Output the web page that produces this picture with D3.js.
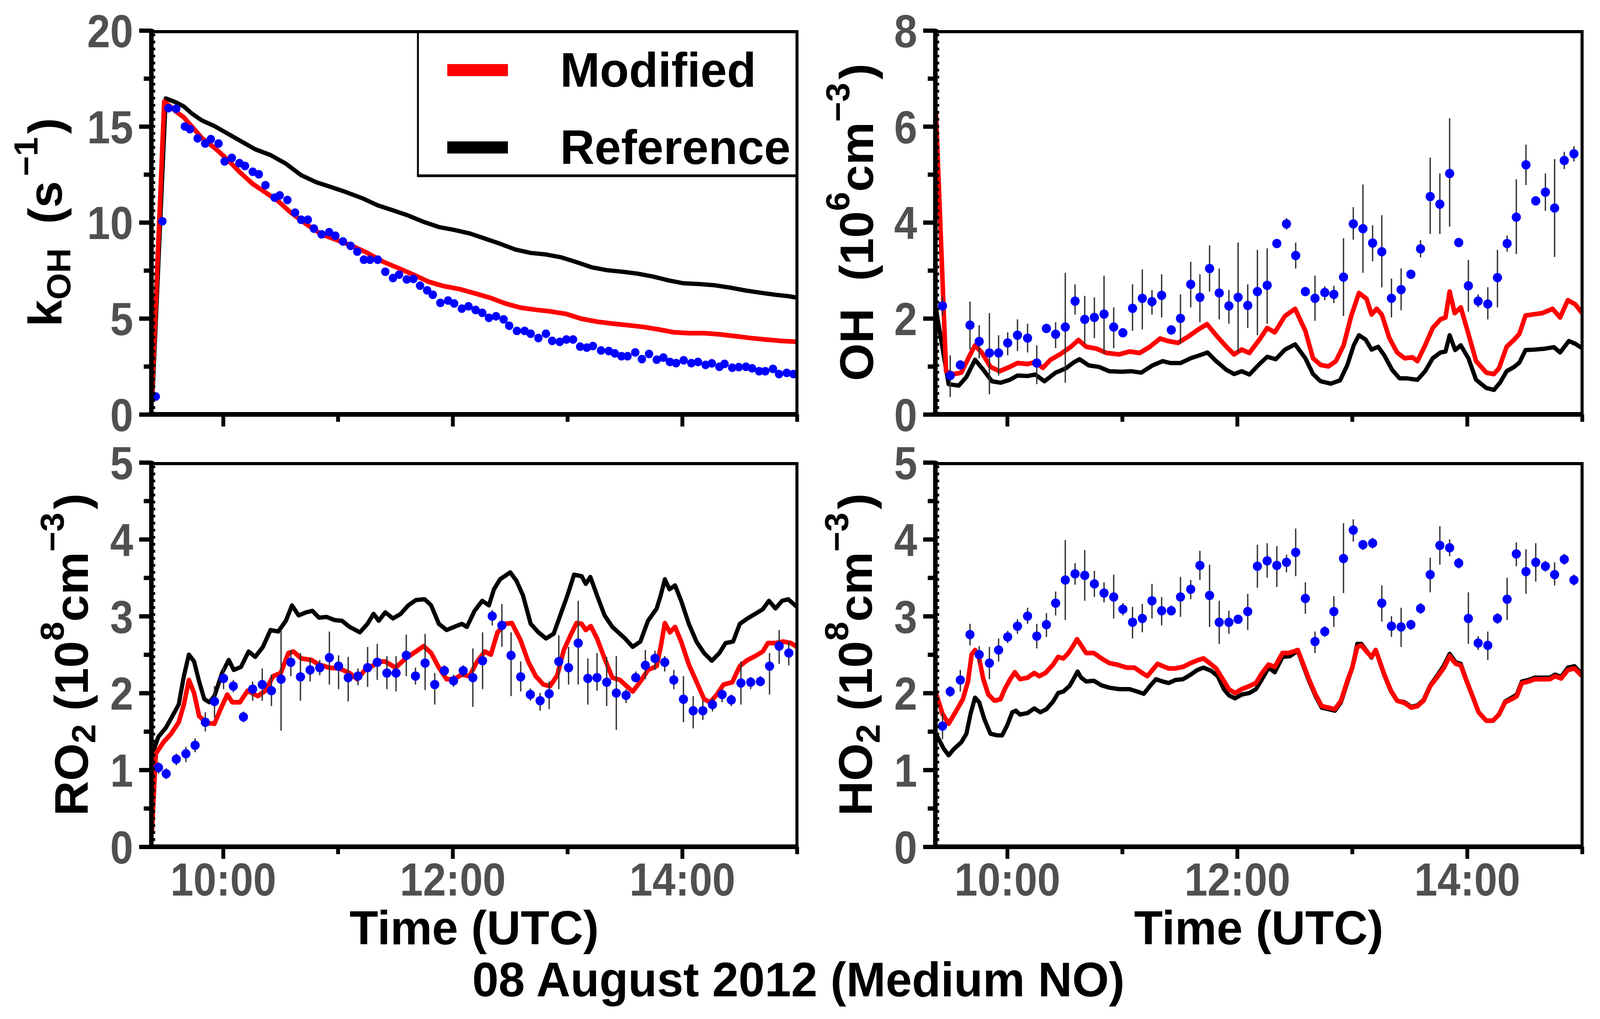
<!DOCTYPE html>
<html><head><meta charset="utf-8">
<script src="https://cdn.jsdelivr.net/npm/d3@7"></script>
<style>
html,body{margin:0;padding:0;background:#fff;overflow:hidden}
svg{display:block;width:100vw;height:100vh}
text{font-family:"Liberation Sans",Arial,Helvetica,sans-serif;font-weight:bold}
</style></head>
<body><svg id="chart" viewBox="0 0 4196 2609" preserveAspectRatio="none"></svg>
<script>
// ---------------- DATA ----------------
const timeDomain = [9.375, 15];
const timeTicksMajor = [10, 12, 14];
const timeTicksMinor = [11, 13, 15];
const timeTickLabels = ["10:00", "12:00", "14:00"];

// kOH panel (s^-1)
const kohObs = [[9.413,0.93],[9.471,10.06],[9.524,15.95],[9.591,15.92],[9.667,15.0],[9.711,14.86],[9.778,14.38],[9.844,14.11],[9.893,14.34],[9.96,14.11],
[10.013,13.18],[10.076,13.36],[10.142,13.09],[10.191,12.94],[10.258,12.64],[10.311,12.51],[10.369,11.94],[10.449,11.29],[10.493,11.41],[10.56,11.17],
[10.627,10.51],[10.68,10.14],[10.738,10.14],[10.791,9.68],[10.858,9.38],[10.924,9.49],[10.978,9.31],[11.044,9.01],[11.111,8.78],[11.169,8.48],
[11.227,8.06],[11.28,8.06],[11.347,8.06],[11.413,7.43],[11.48,7.10],[11.533,7.28],[11.6,7.03],[11.658,7.06],[11.716,6.71],[11.778,6.46],
[11.827,6.23],[11.893,5.81],[11.96,5.93],[12.013,5.78],[12.08,5.51],[12.138,5.63],[12.2,5.44],[12.258,5.29],[12.316,5.03],[12.378,5.11],
[12.444,4.95],[12.493,4.62],[12.56,4.35],[12.627,4.35],[12.68,4.20],[12.747,3.98],[12.813,4.20],[12.867,3.83],[12.933,3.78],[12.991,3.90],
[13.049,3.90],[13.111,3.53],[13.169,3.48],[13.222,3.56],[13.293,3.33],[13.36,3.30],[13.413,3.18],[13.471,3.03],[13.524,3.03],[13.591,3.23],
[13.649,2.88],[13.711,3.15],[13.778,2.85],[13.836,2.96],[13.893,2.73],[13.947,2.67],[14.013,2.82],[14.08,2.67],[14.138,2.73],[14.204,2.58],
[14.258,2.66],[14.324,2.48],[14.369,2.63],[14.436,2.43],[14.493,2.46],[14.556,2.48],[14.609,2.40],[14.671,2.25],[14.724,2.25],[14.791,2.37],
[14.844,2.10],[14.911,2.16],[14.969,2.10]];
const kohModified = [[9.38,1.0],[9.487,16.3],[9.591,15.77],[9.658,15.47],[9.724,15.02],[9.813,14.41],[9.924,13.89],[10.036,13.29],[10.147,12.61],[10.258,12.01],
[10.369,11.56],[10.48,11.11],[10.591,10.51],[10.724,9.91],[10.858,9.38],[10.991,9.08],[11.124,8.78],[11.258,8.41],[11.391,7.96],[11.524,7.63],
[11.658,7.28],[11.791,6.91],[11.924,6.68],[12.058,6.53],[12.191,6.31],[12.324,6.08],[12.458,5.78],[12.591,5.56],[12.724,5.45],[12.858,5.36],
[12.991,5.23],[13.124,4.98],[13.258,4.83],[13.391,4.73],[13.524,4.65],[13.658,4.56],[13.791,4.43],[13.924,4.28],[14.058,4.23],[14.191,4.23],
[14.324,4.17],[14.458,4.08],[14.591,3.98],[14.724,3.90],[14.858,3.83],[15.0,3.78]];
const kohReference = [[9.385,1.0],[9.50,16.46],[9.591,16.25],[9.658,16.04],[9.724,15.69],[9.813,15.32],[9.924,15.02],[10.036,14.64],[10.147,14.26],[10.28,13.81],
[10.413,13.51],[10.547,13.06],[10.68,12.46],[10.813,12.09],[10.947,11.83],[11.08,11.56],[11.213,11.26],[11.347,10.89],[11.48,10.63],[11.613,10.36],
[11.747,10.03],[11.88,9.76],[12.013,9.61],[12.147,9.43],[12.28,9.16],[12.413,8.89],[12.547,8.59],[12.68,8.41],[12.813,8.33],[12.947,8.18],
[13.08,7.93],[13.213,7.66],[13.347,7.51],[13.48,7.43],[13.613,7.33],[13.747,7.18],[13.88,6.98],[14.013,6.83],[14.147,6.79],[14.28,6.73],
[14.413,6.61],[14.547,6.46],[14.68,6.34],[14.813,6.23],[14.924,6.16],[15.0,6.08]];

// shared measurement times for OH, RO2, HO2 (hours UTC)
const obsTimes = [9.437,9.504,9.592,9.676,9.756,9.845,9.925,10.004,10.089,10.177,10.257,10.341,10.421,10.505,10.59,10.674,10.758,10.842,10.926,11.006,
11.09,11.175,11.259,11.343,11.427,11.507,11.596,11.676,11.76,11.844,11.928,12.008,12.092,12.176,12.261,12.345,12.429,12.509,12.593,12.677,
12.762,12.841,12.925,13.01,13.094,13.178,13.258,13.342,13.426,13.511,13.595,13.679,13.763,13.848,13.927,14.011,14.096,14.18,14.264,14.348,
14.428,14.512,14.597,14.681,14.761,14.845,14.929];

// OH (10^6 cm^-3)
const ohObs = [2.26,0.81,1.03,1.86,1.52,1.28,1.28,1.49,1.65,1.59,1.07,1.79,1.67,1.82,2.36,1.98,2.02,2.09,1.82,1.70,
2.21,2.42,2.35,2.48,1.76,2.00,2.71,2.44,3.04,2.53,2.26,2.44,2.27,2.56,2.69,3.56,3.97,3.31,2.56,2.42,
2.54,2.50,2.86,3.97,3.87,3.57,3.39,2.42,2.60,2.92,3.45,4.54,4.38,5.02,3.58,2.68,2.36,2.30,2.85,3.56,
4.11,5.20,4.45,4.63,4.30,5.29,5.43];
const ohErr = [[2.05,2.45],[0.36,1.23],[0.95,1.12],[1.35,2.35],[1.17,1.86],[0.42,2.11],[0.81,1.65],[1.23,1.71],[1.32,1.98],[1.29,1.89],
[0.63,1.44],[1.70,1.89],[1.38,1.92],[0.66,2.95],[2.08,2.71],[1.47,2.47],[1.59,2.44],[1.26,2.89],[1.38,2.23],[1.62,1.78],
[1.74,2.71],[1.77,3.02],[2.08,2.59],[2.02,2.92],[1.66,1.86],[1.47,2.50],[2.23,3.18],[1.92,2.92],[2.56,3.52],[1.98,3.04],
[1.89,2.59],[1.29,3.58],[1.80,2.71],[1.65,3.43],[1.89,3.46],[3.48,3.64],[3.85,4.09],[3.04,3.58],[2.47,2.65],[1.95,2.89],
[2.38,2.67],[2.32,2.68],[2.05,3.67],[3.64,4.32],[2.95,4.79],[3.19,3.94],[2.65,4.15],[2.02,2.83],[2.17,3.04],[2.85,2.99],
[3.27,3.63],[3.76,5.35],[3.76,5.02],[3.91,6.17],[3.50,3.66],[2.14,3.22],[2.23,2.50],[1.98,2.65],[2.23,3.43],[3.39,3.73],
[3.34,4.90],[4.78,5.62],[4.37,4.53],[4.24,5.02],[3.28,5.32],[5.11,5.47],[5.27,5.59]];
const ohModified = [[9.38,6.3],[9.468,0.90],[9.535,0.84],[9.60,0.87],[9.668,1.20],[9.72,1.44],[9.778,1.29],[9.854,0.99],[9.934,0.90],[10.022,0.99],
[10.089,1.07],[10.177,1.05],[10.244,1.09],[10.31,0.97],[10.377,1.14],[10.465,1.26],[10.554,1.41],[10.62,1.55],[10.687,1.41],[10.776,1.37],
[10.864,1.28],[10.975,1.25],[11.064,1.31],[11.152,1.28],[11.241,1.41],[11.33,1.58],[11.396,1.53],[11.485,1.49],[11.574,1.62],[11.662,1.77],
[11.738,1.88],[11.817,1.65],[11.906,1.41],[11.973,1.25],[12.039,1.35],[12.106,1.28],[12.194,1.56],[12.261,1.80],[12.327,1.71],[12.416,2.05],
[12.504,2.20],[12.593,1.74],[12.66,1.17],[12.726,1.03],[12.793,1.00],[12.859,1.11],[12.926,1.44],[12.992,2.05],[13.059,2.53],[13.125,2.41],
[13.169,2.08],[13.214,2.20],[13.258,2.08],[13.324,1.59],[13.391,1.29],[13.457,1.17],[13.524,1.19],[13.568,1.11],[13.635,1.44],[13.701,1.80],
[13.768,1.98],[13.812,2.02],[13.848,2.56],[13.892,2.11],[13.945,2.23],[14.011,1.68],[14.078,1.11],[14.167,0.87],[14.233,0.84],[14.277,0.96],
[14.344,1.41],[14.41,1.56],[14.455,1.68],[14.508,2.06],[14.565,2.08],[14.654,2.11],[14.743,2.20],[14.809,2.02],[14.876,2.38],[14.942,2.29],[15.0,2.11]];
const ohReference = [[9.38,2.2],[9.49,0.63],[9.579,0.60],[9.645,0.78],[9.72,1.14],[9.792,0.93],[9.867,0.69],[9.942,0.66],[10.022,0.72],[10.089,0.81],
[10.177,0.80],[10.244,0.83],[10.324,0.69],[10.421,0.87],[10.51,0.96],[10.576,1.08],[10.629,1.15],[10.709,1.02],[10.798,0.99],[10.886,0.90],
[10.997,0.89],[11.077,0.90],[11.166,0.87],[11.263,1.02],[11.352,1.11],[11.418,1.07],[11.507,1.07],[11.596,1.17],[11.671,1.23],[11.742,1.29],
[11.817,1.11],[11.906,0.93],[11.973,0.84],[12.039,0.90],[12.106,0.83],[12.194,1.05],[12.261,1.20],[12.336,1.15],[12.416,1.35],[12.504,1.46],
[12.593,1.17],[12.66,0.84],[12.726,0.69],[12.815,0.64],[12.895,0.71],[12.957,1.02],[13.014,1.44],[13.059,1.65],[13.117,1.56],[13.169,1.35],
[13.227,1.41],[13.28,1.23],[13.347,0.93],[13.413,0.75],[13.48,0.75],[13.568,0.72],[13.635,0.90],[13.701,1.17],[13.768,1.29],[13.812,1.31],
[13.848,1.65],[13.896,1.34],[13.945,1.44],[14.011,1.17],[14.078,0.72],[14.167,0.55],[14.233,0.51],[14.286,0.66],[14.344,0.90],[14.41,0.99],
[14.455,1.08],[14.508,1.34],[14.588,1.35],[14.676,1.37],[14.756,1.40],[14.809,1.29],[14.885,1.53],[14.942,1.47],[15.0,1.38]];

// RO2 (10^8 cm^-3)
const ro2Obs = [1.03,0.95,1.14,1.21,1.32,1.62,1.89,2.19,2.09,1.69,2.05,2.11,2.03,2.18,2.40,2.21,2.30,2.33,2.46,2.35,
2.20,2.22,2.33,2.40,2.26,2.26,2.49,2.22,2.39,2.11,2.29,2.16,2.29,2.20,2.42,3.00,2.88,2.49,2.21,1.98,
1.90,1.99,2.41,2.33,2.65,2.19,2.20,2.14,2.00,1.97,2.20,2.36,2.45,2.40,2.17,1.92,1.77,1.77,1.85,1.98,
1.91,2.13,2.14,2.15,2.35,2.61,2.52];
const ro2Err = [[0.95,1.10],[0.88,1.02],[1.06,1.21],[1.10,1.30],[1.23,1.41],[1.50,1.75],[1.68,2.09],[2.05,2.34],[2.01,2.17],[1.62,1.76],
[1.90,2.15],[1.90,2.32],[1.83,2.24],[1.51,2.82],[2.22,2.56],[1.90,2.52],[2.15,2.45],[2.23,2.43],[2.11,2.80],[2.05,2.49],
[1.89,2.47],[2.10,2.32],[2.08,2.60],[2.17,2.64],[2.05,2.48],[2.02,2.48],[2.22,2.76],[2.11,2.33],[2.04,2.77],[1.85,2.26],
[2.22,2.36],[2.08,2.24],[2.21,2.36],[1.82,2.58],[2.05,2.79],[2.88,3.08],[2.60,3.16],[1.96,2.79],[2.02,2.41],[1.90,2.06],
[1.77,2.00],[1.79,2.15],[2.05,2.75],[2.11,2.60],[2.11,3.20],[1.85,2.45],[2.03,2.52],[1.83,2.47],[1.52,2.48],[1.87,2.05],
[2.15,2.28],[2.18,2.56],[2.30,2.55],[2.28,2.48],[2.05,2.30],[1.62,2.22],[1.54,1.96],[1.65,1.90],[1.76,1.94],[1.88,2.05],
[1.83,1.98],[1.85,2.41],[2.05,2.21],[2.09,2.22],[1.98,2.52],[2.38,2.82],[2.36,2.67]];
const ro2Modified = [[9.38,0.2],[9.413,1.21],[9.48,1.36],[9.547,1.47],[9.613,1.62],[9.658,1.85],[9.702,2.17],[9.747,2.0],[9.791,1.70],[9.858,1.61],
[9.924,1.60],[9.978,1.79],[10.036,1.98],[10.08,1.88],[10.147,1.88],[10.213,2.03],[10.302,1.96],[10.369,2.03],[10.436,2.22],[10.502,2.26],
[10.569,2.52],[10.613,2.54],[10.68,2.45],[10.769,2.43],[10.836,2.37],[10.924,2.33],[11.013,2.32],[11.102,2.26],[11.169,2.18],[11.236,2.30],
[11.369,2.41],[11.413,2.41],[11.502,2.33],[11.591,2.45],[11.68,2.54],[11.747,2.61],[11.813,2.52],[11.88,2.33],[11.947,2.18],[12.013,2.18],
[12.08,2.24],[12.147,2.22],[12.213,2.41],[12.28,2.54],[12.333,2.50],[12.391,2.79],[12.458,2.90],[12.516,2.91],[12.591,2.69],[12.658,2.41],
[12.724,2.22],[12.791,2.11],[12.849,2.09],[12.911,2.23],[12.969,2.56],[13.027,2.75],[13.08,2.91],[13.124,2.90],[13.16,2.82],[13.204,2.87],
[13.258,2.71],[13.324,2.45],[13.391,2.20],[13.458,2.17],[13.516,2.09],[13.569,2.02],[13.636,2.15],[13.702,2.30],[13.778,2.35],[13.813,2.60],
[13.849,2.91],[13.893,2.79],[13.938,2.86],[13.991,2.67],[14.058,2.37],[14.124,2.15],[14.191,1.92],[14.244,1.88],[14.302,1.98],[14.36,2.11],
[14.436,2.14],[14.502,2.35],[14.569,2.43],[14.636,2.48],[14.702,2.54],[14.747,2.65],[14.813,2.65],[14.88,2.67],[14.947,2.65],[15.0,2.60]];
const ro2Reference = [[9.38,1.2],[9.436,1.43],[9.502,1.55],[9.569,1.73],[9.613,1.85],[9.658,2.22],[9.702,2.50],[9.747,2.41],[9.791,2.15],[9.836,1.92],
[9.88,1.88],[9.924,1.96],[9.991,2.26],[10.049,2.43],[10.093,2.30],[10.156,2.34],[10.222,2.54],[10.28,2.47],[10.347,2.60],[10.413,2.82],
[10.48,2.80],[10.547,2.94],[10.6,3.14],[10.658,3.01],[10.724,3.05],[10.778,3.07],[10.836,2.98],[10.902,2.99],[10.969,2.95],[11.036,2.94],
[11.102,2.86],[11.191,2.79],[11.258,2.90],[11.311,3.03],[11.356,2.94],[11.413,3.05],[11.48,2.97],[11.547,3.03],[11.613,3.14],[11.68,3.21],
[11.756,3.22],[11.813,3.14],[11.88,2.90],[11.947,2.82],[12.013,2.86],[12.08,2.90],[12.124,2.86],[12.191,3.07],[12.258,3.20],[12.316,3.14],
[12.36,3.35],[12.413,3.48],[12.502,3.57],[12.556,3.46],[12.613,3.27],[12.68,2.90],[12.747,2.79],[12.813,2.71],[12.88,2.77],[12.947,3.05],
[13.0,3.27],[13.058,3.54],[13.124,3.52],[13.16,3.42],[13.2,3.51],[13.258,3.27],[13.324,3.01],[13.391,2.86],[13.458,2.77],[13.502,2.71],
[13.569,2.60],[13.636,2.67],[13.702,2.94],[13.778,3.10],[13.813,3.27],[13.849,3.48],[13.889,3.35],[13.938,3.40],[13.991,3.20],[14.058,2.90],
[14.124,2.67],[14.191,2.52],[14.258,2.42],[14.324,2.52],[14.378,2.65],[14.444,2.67],[14.502,2.90],[14.569,2.97],[14.636,3.03],[14.702,3.09],
[14.756,3.20],[14.813,3.10],[14.871,3.20],[14.924,3.22],[15.0,3.12]];

// HO2 (10^8 cm^-3)
const ho2Obs = [1.57,2.02,2.17,2.76,2.50,2.39,2.56,2.73,2.87,3.00,2.74,2.89,3.17,3.47,3.55,3.53,3.42,3.30,3.25,3.09,
2.92,2.97,3.20,3.07,3.07,3.25,3.35,3.66,3.27,2.92,2.92,2.96,3.06,3.65,3.72,3.66,3.70,3.83,3.23,2.67,
2.80,3.06,3.75,4.12,3.93,3.95,3.17,2.87,2.86,2.89,3.10,3.54,3.92,3.89,3.69,2.97,2.65,2.62,2.97,3.22,
3.81,3.58,3.70,3.65,3.54,3.74,3.47];
const ho2Err = [[1.40,1.74],[1.95,2.09],[2.02,2.30],[2.62,2.90],[2.39,2.61],[2.18,2.60],[2.41,2.71],[2.65,2.81],[2.77,2.96],[2.90,3.11],
[2.58,2.90],[2.73,3.04],[3.01,3.32],[2.95,3.99],[3.41,3.69],[3.20,3.86],[3.25,3.59],[3.18,3.44],[2.97,3.54],[3.01,3.17],
[2.71,3.12],[2.79,3.16],[2.97,3.42],[2.88,3.25],[3.01,3.14],[2.99,3.51],[3.22,3.47],[3.47,3.85],[2.86,3.67],[2.64,3.20],
[2.77,3.07],[2.90,3.01],[2.82,3.29],[3.37,3.93],[3.50,3.95],[3.38,3.91],[3.57,3.80],[3.52,4.14],[3.03,3.44],[2.52,2.80],
[2.73,2.87],[2.86,3.26],[3.30,4.21],[3.97,4.26],[3.86,3.99],[3.88,4.02],[2.93,3.40],[2.73,3.00],[2.60,3.11],[2.82,2.95],
[3.03,3.17],[3.31,3.76],[3.67,4.17],[3.78,4.00],[3.62,3.76],[2.64,3.31],[2.56,2.74],[2.43,2.80],[2.90,3.04],[2.95,3.50],
[3.65,3.96],[3.29,3.87],[3.45,3.95],[3.58,3.72],[3.40,3.70],[3.67,3.81],[3.40,3.54]];
const ho2Modified = [[9.38,2.0],[9.437,1.73],[9.49,1.60],[9.557,1.77],[9.614,1.92],[9.659,2.15],[9.69,2.50],[9.72,2.56],[9.756,2.45],[9.792,2.18],
[9.836,1.98],[9.889,1.90],[9.942,1.92],[9.978,2.05],[10.022,2.17],[10.066,2.27],[10.111,2.18],[10.177,2.20],[10.235,2.26],[10.279,2.22],
[10.332,2.26],[10.399,2.37],[10.443,2.47],[10.488,2.45],[10.532,2.52],[10.576,2.62],[10.607,2.70],[10.643,2.62],[10.687,2.52],[10.754,2.52],
[10.82,2.45],[10.887,2.39],[10.953,2.37],[11.042,2.33],[11.108,2.33],[11.175,2.26],[11.219,2.22],[11.263,2.30],[11.308,2.38],[11.352,2.35],
[11.405,2.32],[11.463,2.32],[11.529,2.34],[11.596,2.39],[11.662,2.43],[11.707,2.45],[11.76,2.39],[11.817,2.32],[11.875,2.18],[11.928,2.05],
[11.981,2.00],[12.039,2.05],[12.106,2.09],[12.163,2.13],[12.216,2.26],[12.273,2.37],[12.327,2.34],[12.394,2.52],[12.447,2.52],[12.491,2.54],
[12.527,2.56],[12.571,2.39],[12.624,2.18],[12.682,1.98],[12.735,1.83],[12.793,1.81],[12.85,1.79],[12.903,1.90],[12.957,2.15],[13.001,2.33],
[13.045,2.60],[13.081,2.62],[13.125,2.54],[13.169,2.47],[13.205,2.56],[13.236,2.43],[13.28,2.24],[13.338,2.03],[13.391,1.90],[13.457,1.87],
[13.515,1.81],[13.568,1.83],[13.621,1.90],[13.679,2.09],[13.746,2.22],[13.799,2.33],[13.848,2.48],[13.901,2.38],[13.945,2.36],[13.989,2.18],
[14.047,1.96],[14.1,1.75],[14.167,1.64],[14.224,1.64],[14.277,1.72],[14.33,1.88],[14.388,1.92],[14.432,1.96],[14.476,2.13],[14.534,2.15],
[14.588,2.18],[14.654,2.18],[14.72,2.18],[14.765,2.22],[14.818,2.19],[14.876,2.30],[14.934,2.32],[15.0,2.22]];
const ho2Reference = [[9.38,1.47],[9.446,1.28],[9.49,1.19],[9.535,1.27],[9.601,1.36],[9.645,1.47],[9.681,1.73],[9.72,1.94],[9.756,1.88],[9.801,1.66],
[9.854,1.47],[9.911,1.45],[9.956,1.45],[10.0,1.58],[10.044,1.75],[10.075,1.77],[10.111,1.72],[10.177,1.74],[10.235,1.80],[10.288,1.75],
[10.341,1.79],[10.399,1.89],[10.443,2.00],[10.488,2.02],[10.541,2.09],[10.576,2.18],[10.612,2.28],[10.643,2.20],[10.687,2.15],[10.754,2.16],
[10.82,2.10],[10.887,2.07],[10.975,2.05],[11.064,2.05],[11.13,2.02],[11.188,1.99],[11.241,2.09],[11.294,2.18],[11.352,2.15],[11.405,2.13],
[11.463,2.17],[11.529,2.18],[11.596,2.24],[11.654,2.30],[11.707,2.33],[11.773,2.29],[11.831,2.22],[11.884,2.05],[11.928,1.97],[11.981,1.93],
[12.039,1.98],[12.106,2.00],[12.163,2.05],[12.216,2.18],[12.273,2.33],[12.327,2.27],[12.394,2.47],[12.46,2.48],[12.527,2.55],[12.571,2.37],
[12.624,2.16],[12.682,1.96],[12.735,1.81],[12.793,1.79],[12.85,1.77],[12.903,1.88],[12.957,2.13],[13.001,2.33],[13.045,2.64],[13.081,2.64],
[13.125,2.55],[13.169,2.46],[13.205,2.56],[13.236,2.42],[13.28,2.23],[13.338,2.02],[13.391,1.90],[13.457,1.88],[13.515,1.82],[13.568,1.84],
[13.621,1.91],[13.679,2.10],[13.746,2.24],[13.799,2.36],[13.848,2.51],[13.901,2.40],[13.945,2.38],[13.989,2.19],[14.047,1.96],[14.1,1.75],
[14.167,1.64],[14.224,1.64],[14.277,1.72],[14.33,1.89],[14.388,1.94],[14.432,1.98],[14.476,2.15],[14.534,2.17],[14.588,2.20],[14.654,2.20],
[14.72,2.20],[14.765,2.24],[14.818,2.21],[14.876,2.33],[14.934,2.35],[15.0,2.24]];

const legendLabels = ["Modified", "Reference"];
const titleText = "08 August 2012 (Medium NO)";
const xTitleText = "Time (UTC)";

// ---------------- DRAWING ----------------
const svg = d3.select("#chart");
const RED = "#ff0000", BLACK = "#000000", BLUE = "#0000ff", TICKGREY = "#505050";

const panels = [
  {id:"koh", x0:397, x1:2090, yTop:78, yBot:1061, ymax:20, major:[0,5,10,15,20], minor:[2.5,7.5,12.5,17.5],
   obs:kohObs, err:null, mod:kohModified, ref:kohReference, r:11, xLabels:false},
  {id:"oh", x0:2453, x1:4149, yTop:78, yBot:1061, ymax:8, major:[0,2,4,6,8], minor:[1,3,5,7],
   obs:obsTimes.map((t,i)=>[t,ohObs[i]]), err:ohErr, mod:ohModified, ref:ohReference, r:12, xLabels:false},
  {id:"ro2", x0:397, x1:2090, yTop:1184, yBot:2168, ymax:5, major:[0,1,2,3,4,5], minor:[0.5,1.5,2.5,3.5,4.5],
   obs:obsTimes.map((t,i)=>[t,ro2Obs[i]]), err:ro2Err, mod:ro2Modified, ref:ro2Reference, r:12, xLabels:true},
  {id:"ho2", x0:2453, x1:4149, yTop:1184, yBot:2168, ymax:5, major:[0,1,2,3,4,5], minor:[0.5,1.5,2.5,3.5,4.5],
   obs:obsTimes.map((t,i)=>[t,ho2Obs[i]]), err:ho2Err, mod:ho2Modified, ref:ho2Reference, r:12, xLabels:true}
];

panels.forEach(p => {
  const x = d3.scaleLinear().domain(timeDomain).range([p.x0, p.x1]);
  const y = d3.scaleLinear().domain([0, p.ymax]).range([p.yBot, p.yTop]);
  const g = svg.append("g").attr("class", "panel-" + p.id);

  g.append("clipPath").attr("id", "clip-" + p.id)
    .append("rect").attr("x", p.x0).attr("y", p.yTop).attr("width", p.x1 - p.x0).attr("height", p.yBot - p.yTop);
  const plot = g.append("g").attr("clip-path", "url(#clip-" + p.id + ")");

  const line = d3.line().x(d => x(d[0])).y(d => y(d[1]));
  plot.append("path").datum(p.ref).attr("d", line).attr("fill", "none")
    .attr("stroke", BLACK).attr("stroke-width", 11).attr("stroke-linejoin", "round");
  plot.append("path").datum(p.mod).attr("d", line).attr("fill", "none")
    .attr("stroke", RED).attr("stroke-width", 12).attr("stroke-linejoin", "round");

  if (p.err) {
    plot.selectAll("line.err").data(p.obs).enter().append("line").attr("class", "err")
      .attr("x1", d => x(d[0])).attr("x2", d => x(d[0]))
      .attr("y1", (d, i) => y(p.err[i][0])).attr("y2", (d, i) => y(p.err[i][1]))
      .attr("stroke", "#333").attr("stroke-width", 3.5);
  }
  plot.selectAll("circle.obs").data(p.obs).enter().append("circle").attr("class", "obs")
    .attr("cx", d => x(d[0])).attr("cy", d => y(d[1])).attr("r", p.r).attr("fill", BLUE);

  // Y axis ticks
  const yMajor = d3.axisLeft(y).tickValues(p.major).tickSize(32).tickSizeOuter(0).tickFormat(d3.format("d"));
  const yMinor = d3.axisLeft(y).tickValues(p.minor).tickSize(20).tickSizeOuter(0).tickFormat("");
  [yMajor, yMinor].forEach(ax => {
    const a = g.append("g").attr("transform", `translate(${p.x0},0)`).call(ax);
    a.select(".domain").remove();
    a.selectAll(".tick line").attr("stroke", BLACK).attr("stroke-width", 11);
    a.selectAll(".tick text").attr("fill", TICKGREY).attr("font-size", 118)
      .attr("x", -52).attr("dy", "0.36em").attr("transform", "scale(0.92,1)");
  });

  // X axis ticks
  const xMajor = d3.axisBottom(x).tickValues(timeTicksMajor).tickSize(31).tickSizeOuter(0)
    .tickFormat((d, i) => p.xLabels ? timeTickLabels[i] : "");
  const xMinor = d3.axisBottom(x).tickValues(timeTicksMinor).tickSize(19).tickSizeOuter(0).tickFormat("");
  [xMajor, xMinor].forEach(ax => {
    const a = g.append("g").attr("transform", `translate(0,${p.yBot})`).call(ax);
    a.select(".domain").remove();
    a.selectAll(".tick line").attr("stroke", BLACK).attr("stroke-width", 10);
    a.selectAll(".tick text").attr("fill", TICKGREY).attr("font-size", 118)
      .attr("y", 125).attr("dy", null).attr("transform", "scale(0.92,1)");
  });

  // frame
  g.append("line").attr("x1", p.x0).attr("x2", p.x1 + 4).attr("y1", p.yTop + 3).attr("y2", p.yTop + 3)
    .attr("stroke", BLACK).attr("stroke-width", 8);
  g.append("line").attr("x1", p.x1).attr("x2", p.x1).attr("y1", p.yTop).attr("y2", p.yBot)
    .attr("stroke", BLACK).attr("stroke-width", 8);
  g.append("line").attr("x1", p.x0).attr("x2", p.x0).attr("y1", p.yTop - 4).attr("y2", p.yBot + 6)
    .attr("stroke", BLACK).attr("stroke-width", 12);
  g.append("line").attr("x1", p.x0 + 7).attr("x2", p.x0 + 7).attr("y1", p.yTop + 8).attr("y2", p.yBot)
    .attr("stroke", BLACK).attr("stroke-width", 6).attr("stroke-dasharray", "7 11");
  g.append("line").attr("x1", p.x0 - 6).attr("x2", p.x1 + 4).attr("y1", p.yBot).attr("y2", p.yBot)
    .attr("stroke", BLACK).attr("stroke-width", 12);

  if (p.xLabels) {
    g.append("text").attr("x", (p.x0 + p.x1) / 2).attr("y", 2418).attr("text-anchor", "middle")
      .attr("font-size", 123).attr("fill", BLACK).text(xTitleText);
  }
});

// ---------------- Y AXIS LABELS ----------------
function yLabel(px, cy, parts) {
  const t = svg.append("g").attr("transform", `translate(${px},${cy}) rotate(-90)`)
    .append("text").attr("text-anchor", "middle").attr("fill", BLACK).attr("font-size", 124);
  parts.forEach(pt => {
    const s = t.append("tspan").text(pt.t);
    if (pt.fs) s.attr("font-size", pt.fs);
    if (pt.dy) s.attr("dy", pt.dy);
    if (pt.dx) s.attr("dx", pt.dx);
  });
}
const SUB = 88;
yLabel(162, 569, [
  {t:"k"}, {t:"OH", fs:SUB, dy:22}, {t:"(s", dy:-22, dx:62},
  {t:"\u22121", fs:SUB, dy:-64, dx:12}, {t:")", dy:64, dx:8}
]);
yLabel(2290, 569, [
  {t:"OH"}, {t:"(10", dx:70}, {t:"6", fs:SUB, dy:-63},
  {t:"cm", dy:63}, {t:"\u22123", fs:SUB, dy:-63}, {t:")", dy:63, dx:8}
]);
yLabel(230, 1676, [
  {t:"RO"}, {t:"2", fs:SUB, dy:20}, {t:"(10", dy:-20, dx:34}, {t:"8", fs:SUB, dy:-63},
  {t:"cm", dy:63}, {t:"\u22123", fs:SUB, dy:-63}, {t:")", dy:63, dx:8}
]);
yLabel(2287, 1676, [
  {t:"HO"}, {t:"2", fs:SUB, dy:20}, {t:"(10", dy:-20, dx:34}, {t:"8", fs:SUB, dy:-63},
  {t:"cm", dy:63}, {t:"\u22123", fs:SUB, dy:-63}, {t:")", dy:63, dx:8}
]);

// ---------------- LEGEND ----------------
const lg = svg.append("g").attr("class", "legend");
lg.append("rect").attr("x", 1096).attr("y", 86).attr("width", 990).attr("height", 362).attr("fill", "#fff");
lg.append("line").attr("x1", 1096).attr("x2", 1096).attr("y1", 84).attr("y2", 453)
  .attr("stroke", BLACK).attr("stroke-width", 5);
lg.append("line").attr("x1", 1094).attr("x2", 2090).attr("y1", 450).attr("y2", 450)
  .attr("stroke", BLACK).attr("stroke-width", 7);
const legendColors = [RED, BLACK];
const legendY = [179.5, 377.5];
legendLabels.forEach((lab, i) => {
  lg.append("line").attr("x1", 1173).attr("x2", 1332).attr("y1", legendY[i]).attr("y2", legendY[i])
    .attr("stroke", legendColors[i]).attr("stroke-width", 31);
  lg.append("text").attr("x", 1469).attr("y", legendY[i] + 43).attr("font-size", 125)
    .attr("fill", BLACK).text(lab);
});

// ---------------- TITLE ----------------
svg.append("text").attr("x", 2094).attr("y", 2551).attr("text-anchor", "middle")
  .attr("font-size", 124).attr("fill", BLACK).text(titleText);
</script>
</body></html>
